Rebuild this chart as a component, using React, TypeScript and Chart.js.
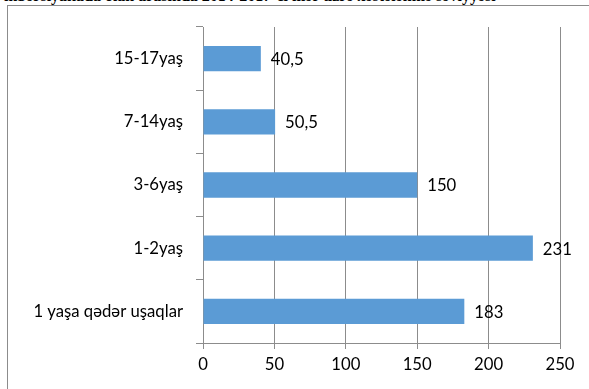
import React, { useEffect, useRef } from "react";
import { Chart, registerables } from "chart.js";

Chart.register(...registerables);

const categories = ["1 yaşa qədər uşaqlar", "1-2yaş", "3-6yaş", "7-14yaş", "15-17yaş"];
const values = [183, 231, 150, 50.5, 40.5];
const valueLabels = ["183", "231", "150", "50,5", "40,5"];
const xTicks = [0, 50, 100, 150, 200, 250];

const FONT = "Lato, 'Open Sans', sans-serif";
const FONT_SIZE = 16.7;

const valueLabelPlugin = {
  id: "valueLabels",
  afterDatasetsDraw(chart: any) {
    const { ctx } = chart;
    const meta = chart.getDatasetMeta(0);
    ctx.save();
    ctx.font = `${FONT_SIZE}px ${FONT}`;
    ctx.fillStyle = "#000";
    ctx.textAlign = "left";
    ctx.textBaseline = "middle";
    meta.data.forEach((bar: any, i: number) => {
      ctx.fillText(valueLabels[i], bar.x + 10, bar.y + 1);
    });
    ctx.restore();
  },
};

export default function App() {
  const canvasRef = useRef<HTMLCanvasElement | null>(null);

  useEffect(() => {
    document.body.style.margin = "0";
    const canvas = canvasRef.current;
    if (!canvas) return;
    const chart = new Chart(canvas, {
      type: "bar",
      data: {
        labels: categories,
        datasets: [
          {
            data: values,
            backgroundColor: "#5B9BD5",
            borderWidth: 0,
            barPercentage: 0.4,
            categoryPercentage: 1,
          },
        ],
      },
      options: {
        indexAxis: "y",
        animation: false,
        responsive: false,
        maintainAspectRatio: false,
        layout: { padding: { top: 27, right: 29, left: 0, bottom: 0 } },
        plugins: {
          legend: { display: false },
          tooltip: { enabled: false },
        },
        scales: {
          x: {
            min: 0,
            max: 250,
            afterBuildTicks: (axis: any) => {
              axis.ticks = xTicks.map((v) => ({ value: v }));
            },
            afterFit: (axis: any) => {
              axis.height = 46;
            },
            grid: {
              color: "#8c8c8c",
              lineWidth: 1,
              tickLength: 6,
              drawTicks: true,
            },
            border: { color: "#8c8c8c" },
            ticks: {
              color: "#000",
              font: { family: FONT, size: FONT_SIZE },
              padding: 6,
            },
          },
          y: {
            reverse: true,
            afterFit: (axis: any) => {
              axis.width = 203;
            },
            grid: {
              offset: true,
              drawOnChartArea: false,
              color: "#8c8c8c",
              tickLength: 7,
            },
            border: { color: "#8c8c8c" },
            ticks: {
              color: "#000",
              font: { family: FONT, size: FONT_SIZE },
              padding: 13,
            },
          },
        },
      },
      plugins: [valueLabelPlugin],
    });
    return () => chart.destroy();
  }, []);

  return (
    <div style={{ position: "fixed", left: 0, top: 0, width: 589, height: 389, overflow: "hidden", background: "#fff" }}>
      <div
        style={{
          position: "absolute",
          left: 4,
          top: -13,
          whiteSpace: "nowrap",
          font: "bold 16px 'Liberation Serif', serif",
          color: "#000",
        }}
      >
        inbərsiyakada olan arasında 2014-2017-ci illər üzrə xəstələnmə səviyyəsi
      </div>
      <div
        style={{
          position: "absolute",
          left: 7,
          top: 5,
          width: 600,
          height: 400,
          borderLeft: "1px solid #8c8c8c",
          borderTop: "1px solid #8c8c8c",
        }}
      />
      <canvas ref={canvasRef} width={589} height={389} style={{ position: "absolute", left: 0, top: 0 }} />
    </div>
  );
}
